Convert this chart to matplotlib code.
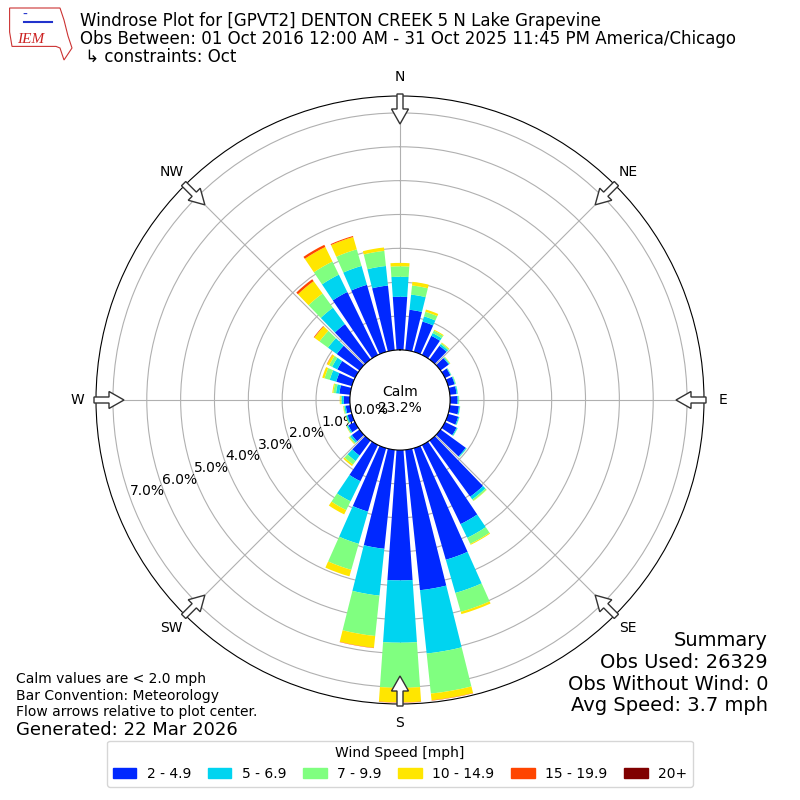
import numpy as np
import matplotlib
matplotlib.use("Agg")
import matplotlib.pyplot as plt
from matplotlib.patches import FancyArrow, Patch, Polygon

# направления (градусы) и доли по бинам скорости, %
directions = np.arange(0, 360, 10)
speed_bins = ["2 - 4.9", "5 - 6.9", "7 - 9.9", "10 - 14.9", "15 - 19.9", "20+"]
bin_colors = ["#0028ff", "#00d4f0", "#80ff80", "#ffe600", "#ff4500", "#800000"]

spd_2_5 = [1.57, 1.20, 0.93, 0.63, 0.50, 0.30, 0.18, 0.20, 0.20, 0.22, 0.27, 0.31,
           0.38, 0.92, 2.05, 2.60, 3.43, 4.17, 3.85, 2.94, 1.95, 1.19, 0.55, 0.28,
           0.22, 0.13, 0.13, 0.18, 0.32, 0.48, 0.58, 0.83, 1.29, 2.07, 2.06, 1.92]
spd_5_7 = [0.59, 0.45, 0.16, 0.09, 0.06, 0.03, 0.02, 0.02, 0.03, 0.03, 0.03, 0.03,
           0.03, 0.03, 0.10, 0.45, 1.02, 1.88, 1.84, 1.39, 0.99, 0.66, 0.20, 0.06,
           0.04, 0.04, 0.04, 0.06, 0.10, 0.20, 0.17, 0.32, 0.60, 0.57, 0.58, 0.58]
spd_7_10 = [0.31, 0.27, 0.14, 0.08, 0.04, 0.02, 0.01, 0.02, 0.01, 0.02, 0.01, 0.01,
            0.01, 0.01, 0.05, 0.20, 0.58, 1.19, 1.33, 1.20, 0.80, 0.29, 0.13, 0.04,
            0.02, 0.02, 0.03, 0.04, 0.08, 0.16, 0.10, 0.31, 0.52, 0.43, 0.51, 0.45]
spd_10_15 = [0.10, 0.11, 0.07, 0.03, 0.02, 0.01, 0.00, 0.00, 0.00, 0.00, 0.00, 0.00,
             0.00, 0.00, 0.01, 0.03, 0.07, 0.20, 0.43, 0.35, 0.20, 0.14, 0.05, 0.02,
             0.01, 0.01, 0.01, 0.02, 0.03, 0.07, 0.07, 0.19, 0.45, 0.48, 0.38, 0.10]
spd_15_20 = [0.00, 0.00, 0.00, 0.00, 0.00, 0.00, 0.00, 0.00, 0.00, 0.00, 0.00, 0.00,
             0.00, 0.00, 0.00, 0.00, 0.00, 0.01, 0.01, 0.01, 0.00, 0.00, 0.00, 0.00,
             0.00, 0.00, 0.00, 0.00, 0.00, 0.00, 0.01, 0.02, 0.07, 0.07, 0.03, 0.00]
spd_20 = [0.0] * 36

calm_pct = 23.2
ring_values = [0, 1, 2, 3, 4, 5, 6, 7]
compass = ["N", "NE", "E", "SE", "S", "SW", "W", "NW"]

fig = plt.figure(figsize=(8, 8), dpi=100)
ax = fig.add_axes([0.12, 0.12, 0.76, 0.76], projection="polar")
ax.set_theta_zero_location("N")
ax.set_theta_direction(-1)

theta = np.deg2rad(directions)
width = np.deg2rad(8)
bottom = np.zeros(36)
for vals, color in zip([spd_2_5, spd_5_7, spd_7_10, spd_10_15, spd_15_20, spd_20], bin_colors):
    vals = np.array(vals)
    ax.bar(theta, vals, width=width, bottom=bottom, color=color, zorder=2)
    bottom += vals

ax.set_rorigin(-1.48)
ax.set_ylim(0, 7.5)
ax.set_rticks(ring_values)
ax.set_yticklabels(["%.1f%%" % v for v in ring_values], fontsize=10)
ax.set_rlabel_position(250)
ax.set_thetagrids(np.arange(0, 360, 45), compass, fontsize=10)
ax.tick_params(axis="x", pad=3)
ax.grid(True, color="#b0b0b0", linewidth=0.8)

ax.text(0.5, 0.5, "Calm\n%.1f%%" % calm_pct, transform=ax.transAxes,
        ha="center", va="center", fontsize=10)

# стрелки потока на краю
for a in np.deg2rad(np.arange(0, 360, 45)):
    r0, r1 = 306, 276
    x0 = (400 + r0 * np.sin(a)) / 800
    y0 = (400 + r0 * np.cos(a)) / 800
    x1 = (400 + r1 * np.sin(a)) / 800
    y1 = (400 + r1 * np.cos(a)) / 800
    fig.add_artist(FancyArrow(x0, y0, x1 - x0, y1 - y0, width=6 / 800,
                              head_width=17 / 800, head_length=15 / 800,
                              length_includes_head=True, fc="white", ec="#333333",
                              lw=1, transform=fig.transFigure, zorder=5))

# логотип (упрощенно)
iowa = [(0.012, 0.99), (0.075, 0.99), (0.08, 0.975), (0.085, 0.955), (0.09, 0.94),
        (0.08, 0.925), (0.075, 0.94), (0.07, 0.942), (0.015, 0.942), (0.012, 0.96)]
fig.add_artist(Polygon(iowa, closed=True, fill=False, ec="#cc3333", lw=0.8,
                       transform=fig.transFigure))
fig.text(0.038, 0.951, "IEM", color="#cc2222", fontsize=11, style="italic",
         family="Liberation Serif", ha="center", va="center")
fig.text(0.028, 0.976, "-", color="#2233cc", fontsize=10)
fig.add_artist(plt.Line2D([0.03, 0.065], [0.972, 0.972], color="#2233cc", lw=1.5,
                          transform=fig.transFigure))

fig.text(0.1, 0.974, "Windrose Plot for [GPVT2] DENTON CREEK 5 N Lake Grapevine",
         fontsize=12, va="center")
fig.text(0.1, 0.951, "Obs Between: 01 Oct 2016 12:00 AM - 31 Oct 2025 11:45 PM America/Chicago",
         fontsize=12, va="center")
fig.text(0.1, 0.929, " \u21b3 constraints: Oct", fontsize=12, va="center")

fig.text(0.02, 0.151, "Calm values are < 2.0 mph", fontsize=10, va="center")
fig.text(0.02, 0.130, "Bar Convention: Meteorology", fontsize=10, va="center")
fig.text(0.02, 0.110, "Flow arrows relative to plot center.", fontsize=10, va="center")
fig.text(0.02, 0.087, "Generated: 22 Mar 2026", fontsize=13, va="center")

fig.text(0.96, 0.200, "Summary", fontsize=14, ha="right", va="center")
fig.text(0.96, 0.172, "Obs Used: 26329", fontsize=14, ha="right", va="center")
fig.text(0.96, 0.144, "Obs Without Wind: 0", fontsize=14, ha="right", va="center")
fig.text(0.96, 0.118, "Avg Speed: 3.7 mph", fontsize=14, ha="right", va="center")

handles = [Patch(color=c, label=l) for c, l in zip(bin_colors, speed_bins)]
fig.legend(handles=handles, loc="lower center", bbox_to_anchor=(0.5, 0.008), ncol=6,
           title="Wind Speed [mph]", fontsize=10, title_fontsize=10,
           handlelength=1.7, handletextpad=0.75, columnspacing=1.2)

fig.savefig("out.png", dpi=100)
